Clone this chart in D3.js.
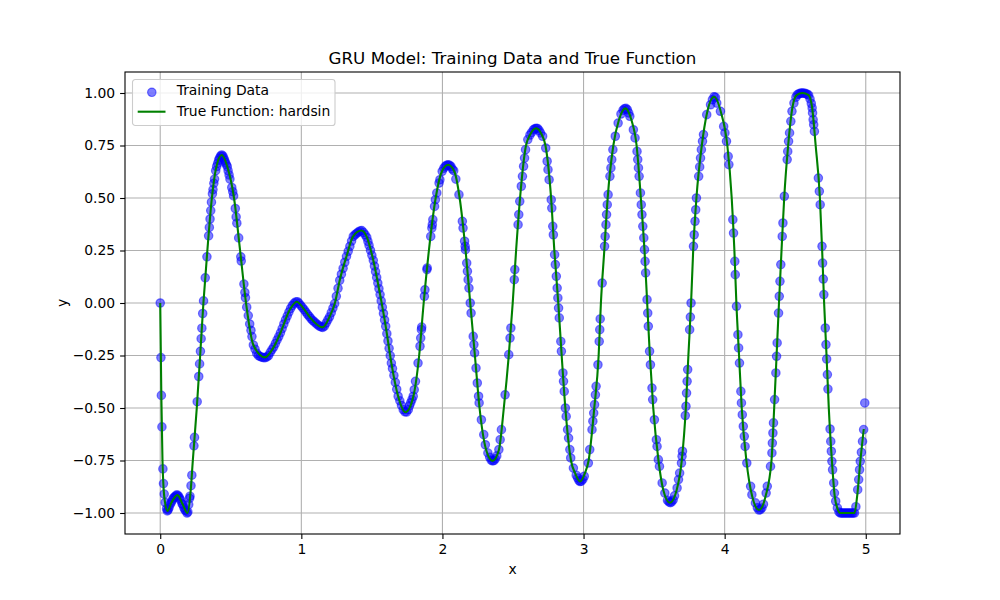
<!DOCTYPE html>
<meta charset="utf-8">
<body style="margin:0; background:white">

<!-- Load d3.js -->
<script src="https://d3js.org/d3.v7.min.js"></script>

<div id="my_dataviz"></div>

<script>

// True function (hardsin)
var curve = [
  [0,0],[0.008,-0.45],[0.016,-0.75],[0.03,-0.93],[0.052,-0.99],[0.08,-0.95],[0.122,-0.915],[0.16,-0.96],
  [0.193,-1.0],[0.215,-0.9],[0.231,-0.75],[0.259,-0.5],[0.283,-0.25],[0.306,0],[0.334,0.25],[0.366,0.5],
  [0.395,0.64],[0.436,0.705],[0.475,0.65],[0.523,0.5],[0.566,0.25],[0.608,0],[0.66,-0.2],[0.742,-0.259],
  [0.80,-0.215],[0.85,-0.145],[0.92,-0.03],[0.967,0.006],[1.02,-0.03],[1.06,-0.067],[1.15,-0.116],
  [1.202,-0.063],[1.238,0],[1.273,0.111],[1.32,0.222],[1.367,0.317],[1.426,0.345],[1.462,0.317],
  [1.509,0.206],[1.556,0.048],[1.598,-0.111],[1.638,-0.286],[1.686,-0.444],[1.738,-0.52],[1.792,-0.45],
  [1.835,-0.25],[1.867,0],[1.904,0.25],[1.952,0.5],[1.995,0.625],[2.04,0.658],[2.085,0.625],[2.122,0.5],
  [2.164,0.25],[2.197,0],[2.23,-0.25],[2.263,-0.5],[2.31,-0.70],[2.355,-0.752],[2.40,-0.70],[2.435,-0.5],
  [2.47,-0.25],[2.498,0],[2.522,0.25],[2.55,0.5],[2.592,0.75],[2.62,0.80],[2.664,0.832],[2.705,0.80],
  [2.73,0.75],[2.77,0.5],[2.793,0.25],[2.821,0],[2.845,-0.25],[2.871,-0.5],[2.911,-0.75],[2.94,-0.81],
  [2.975,-0.85],[3.01,-0.81],[3.036,-0.75],[3.076,-0.5],[3.107,-0.25],[3.123,0],[3.147,0.25],[3.171,0.5],
  [3.211,0.75],[3.25,0.87],[3.296,0.927],[3.34,0.87],[3.376,0.75],[3.406,0.5],[3.432,0.25],[3.451,0],
  [3.47,-0.25],[3.494,-0.5],[3.531,-0.75],[3.565,-0.89],[3.612,-0.951],[3.66,-0.89],[3.696,-0.75],
  [3.725,-0.5],[3.743,-0.25],[3.762,0],[3.777,0.25],[3.80,0.5],[3.838,0.75],[3.875,0.905],[3.925,0.982],
  [3.975,0.905],[4.019,0.75],[4.05,0.5],[4.069,0.25],[4.083,0],[4.102,-0.25],[4.121,-0.5],[4.154,-0.75],
  [4.195,-0.92],[4.243,-0.986],[4.29,-0.92],[4.332,-0.75],[4.351,-0.5],[4.368,-0.25],[4.385,0],[4.403,0.25],
  [4.422,0.5],[4.45,0.75],[4.48,0.93],[4.51,0.99],[4.55,1.0],[4.595,0.99],[4.62,0.93],[4.645,0.75],
  [4.675,0.5],[4.691,0.25],[4.705,0],[4.722,-0.25],[4.738,-0.5],[4.76,-0.75],[4.78,-0.92],[4.80,-0.98],
  [4.82,-1.0],[4.92,-1.0],[4.939,-0.92],[4.962,-0.75],[4.986,-0.6]
];

// Training samples
var train = [
  [0,0],[0.005,-0.26],[0.008,-0.44],[0.012,-0.59],[0.019,-0.79],[0.023,-0.86],[0.028,-0.91],[0.035,-0.95],
  [0.045,-0.98],[0.05,-0.99],
  [0.056,-0.985],[0.062,-0.975],[0.07,-0.96],[0.078,-0.95],[0.085,-0.94],[0.092,-0.93],[0.1,-0.925],
  [0.108,-0.92],[0.115,-0.915],[0.122,-0.915],[0.13,-0.92],[0.138,-0.93],[0.146,-0.94],[0.154,-0.955],
  [0.16,-0.96],[0.168,-0.975],[0.175,-0.985],[0.182,-0.99],[0.19,-1.0],[0.196,-0.995],[0.202,-0.96],
  [0.208,-0.93],
  [0.211,-0.92],[0.218,-0.87],[0.224,-0.82],[0.239,-0.68],[0.243,-0.64],[0.262,-0.47],[0.273,-0.35],
  [0.279,-0.29],[0.285,-0.23],[0.29,-0.17],[0.295,-0.12],[0.301,-0.05],[0.307,0.01],[0.319,0.12],
  [0.331,0.22],[0.343,0.32],[0.348,0.36],[0.353,0.4],[0.358,0.44],[0.363,0.48],[0.37,0.52],[0.374,0.54],
  [0.38,0.57],[0.385,0.59],[0.393,0.63],[0.4,0.65],[0.407,0.665],[0.414,0.68],[0.42,0.69],[0.428,0.7],
  [0.436,0.705],[0.444,0.7],
  [0.45,0.69],[0.456,0.68],[0.461,0.67],[0.468,0.66],[0.475,0.65],[0.481,0.63],[0.488,0.61],[0.494,0.59],
  [0.507,0.55],[0.514,0.53],[0.52,0.51],[0.532,0.45],[0.538,0.41],[0.543,0.38],[0.556,0.31],[0.571,0.22],
  [0.574,0.2],[0.593,0.09],[0.6,0.05],[0.604,0.025],[0.613,-0.02],[0.624,-0.06],[0.634,-0.1],[0.643,-0.13],
  [0.65,-0.16],[0.66,-0.2],[0.672,-0.22],[0.684,-0.24],[0.696,-0.25],[0.708,-0.255],[0.72,-0.258],
  [0.732,-0.26],[0.744,-0.26],[0.756,-0.257],[0.768,-0.25],
  [0.78,-0.235],[0.792,-0.222],[0.804,-0.21],[0.816,-0.193],[0.828,-0.176],[0.84,-0.16],[0.852,-0.142],
  [0.864,-0.122],[0.876,-0.1],[0.888,-0.08],[0.9,-0.062],[0.912,-0.043],[0.924,-0.026],[0.936,-0.012],
  [0.948,-0.002],[0.96,0.005],[0.972,0.006],[0.984,-0.002],[0.996,-0.012],[1.008,-0.022],[1.02,-0.032],
  [1.032,-0.043],[1.044,-0.054],[1.056,-0.064],[1.068,-0.074],[1.08,-0.083],[1.092,-0.09],[1.104,-0.097],
  [1.116,-0.104],[1.128,-0.11],[1.14,-0.114],[1.152,-0.116],[1.164,-0.11],[1.176,-0.095],[1.188,-0.08],
  [1.2,-0.066],[1.212,-0.046],[1.224,-0.024],[1.236,-0.003],[1.248,0.032],[1.26,0.07],[1.272,0.108],
  [1.284,0.137],[1.296,0.165],[1.308,0.194],[1.32,0.222],[1.332,0.246],[1.344,0.27],[1.356,0.295],
  [1.368,0.317],[1.38,0.325],[1.392,0.332],[1.404,0.338],[1.416,0.343],[1.428,0.345],[1.44,0.336],
  [1.452,0.325],[1.464,0.312],[1.472,0.293],[1.48,0.274],[1.49,0.251],[1.5,0.227],[1.51,0.203],
  [1.518,0.176],[1.526,0.149],[1.534,0.122],[1.542,0.095],[1.55,0.068],[1.558,0.04],[1.566,0.01],
  [1.574,-0.02],[1.582,-0.05],[1.59,-0.081],[1.598,-0.111],[1.606,-0.146],[1.614,-0.181],[1.622,-0.216],
  [1.63,-0.251],[1.638,-0.286],[1.646,-0.312],[1.656,-0.345],[1.666,-0.378],[1.676,-0.411],[1.686,-0.444],
  [1.698,-0.466],[1.71,-0.488],[1.722,-0.508],[1.734,-0.518],[1.746,-0.519],[1.758,-0.508],
  [1.766,-0.49],[1.775,-0.475],[1.784,-0.46],[1.793,-0.444],[1.8,-0.413],[1.809,-0.373],[1.827,-0.286],
  [1.841,-0.206],[1.846,-0.167],[1.851,-0.127],[1.853,-0.115],[1.872,0.032],[1.876,0.063],[1.89,0.159],
  [1.892,0.167],[1.917,0.317],[1.925,0.357],[1.928,0.373],[1.932,0.397],[1.944,0.46],[1.95,0.492],
  [1.96,0.524],[1.976,0.571],[1.982,0.587],[1.998,0.627],[2.01,0.642],[2.02,0.651],[2.03,0.656],
  [2.04,0.658],[2.05,0.656],[2.06,0.65],[2.07,0.638],
  [2.08,0.63],[2.095,0.59],[2.117,0.516],[2.141,0.389],[2.146,0.357],[2.157,0.294],[2.161,0.27],
  [2.163,0.254],[2.172,0.19],[2.177,0.151],[2.182,0.111],[2.188,0.071],[2.197,0],[2.203,-0.048],
  [2.218,-0.159],[2.223,-0.198],[2.228,-0.238],[2.238,-0.31],[2.247,-0.381],[2.256,-0.444],[2.26,-0.476],
  [2.276,-0.556],[2.293,-0.627],[2.304,-0.675],[2.322,-0.714],[2.335,-0.735],[2.345,-0.748],
  [2.355,-0.752],[2.365,-0.75],[2.375,-0.742],[2.385,-0.728],
  [2.4,-0.698],[2.409,-0.651],[2.418,-0.603],[2.444,-0.437],[2.47,-0.246],[2.479,-0.167],[2.485,-0.119],
  [2.509,0.111],[2.513,0.159],[2.536,0.373],[2.541,0.421],[2.548,0.484],[2.559,0.556],[2.567,0.603],
  [2.575,0.651],[2.582,0.69],[2.589,0.73],[2.605,0.778],[2.62,0.8],[2.632,0.812],[2.645,0.825],
  [2.655,0.83],[2.664,0.832],[2.674,0.831],[2.685,0.822],[2.695,0.81],
  [2.71,0.794],[2.732,0.738],[2.742,0.675],[2.748,0.635],[2.756,0.587],[2.771,0.492],[2.775,0.452],
  [2.782,0.365],[2.786,0.325],[2.795,0.23],[2.8,0.183],[2.807,0.127],[2.813,0.071],[2.818,0.024],
  [2.823,-0.024],[2.828,-0.071],[2.839,-0.183],[2.843,-0.23],[2.854,-0.333],[2.858,-0.373],[2.863,-0.421],
  [2.871,-0.5],[2.877,-0.54],[2.887,-0.603],[2.894,-0.643],[2.903,-0.698],[2.909,-0.738],[2.928,-0.786],
  [2.948,-0.82],[2.958,-0.833],[2.967,-0.845],[2.975,-0.85],[2.985,-0.848],[2.995,-0.84],[3.005,-0.825],
  [3.034,-0.762],[3.044,-0.698],[3.06,-0.603],[3.066,-0.563],[3.072,-0.524],[3.078,-0.484],[3.084,-0.437],
  [3.089,-0.397],[3.102,-0.294],[3.111,-0.183],[3.115,-0.127],[3.118,-0.076],[3.132,0.095],[3.149,0.27],
  [3.153,0.317],[3.159,0.373],[3.163,0.421],[3.168,0.468],[3.174,0.516],[3.187,0.603],[3.194,0.643],
  [3.2,0.683],[3.208,0.73],[3.225,0.794],[3.245,0.857],[3.265,0.9],[3.28,0.918],[3.29,0.925],[3.3,0.927],
  [3.31,0.921],[3.32,0.905],
  [3.328,0.889],[3.353,0.825],[3.365,0.786],[3.379,0.722],[3.384,0.683],[3.389,0.643],[3.394,0.603],
  [3.403,0.524],[3.409,0.468],[3.414,0.421],[3.42,0.365],[3.427,0.31],[3.432,0.254],[3.436,0.198],
  [3.44,0.143],[3.45,0.016],[3.455,-0.048],[3.459,-0.111],[3.468,-0.23],[3.474,-0.294],[3.485,-0.405],
  [3.49,-0.46],[3.502,-0.556],[3.516,-0.651],[3.521,-0.683],[3.53,-0.746],[3.538,-0.778],[3.557,-0.857],
  [3.576,-0.905],[3.595,-0.94],[3.605,-0.947],[3.615,-0.951],[3.625,-0.947],[3.635,-0.938],
  [3.645,-0.918],[3.663,-0.881],[3.673,-0.841],[3.681,-0.81],[3.694,-0.762],[3.698,-0.73],[3.701,-0.706],
  [3.721,-0.536],[3.726,-0.492],[3.73,-0.429],[3.734,-0.373],[3.738,-0.317],[3.752,-0.127],[3.757,-0.067],
  [3.762,0],[3.779,0.27],[3.784,0.325],[3.79,0.389],[3.795,0.444],[3.8,0.5],[3.816,0.603],[3.823,0.648],
  [3.829,0.69],[3.835,0.73],[3.843,0.77],[3.85,0.802],[3.873,0.897],[3.9,0.944],[3.913,0.968],
  [3.925,0.982],[3.935,0.979],
  [3.944,0.952],[3.97,0.913],[3.993,0.841],[4.002,0.81],[4.013,0.77],[4.025,0.698],[4.03,0.659],
  [4.058,0.397],[4.063,0.333],[4.072,0.198],[4.075,0.135],[4.084,-0.016],[4.094,-0.151],[4.099,-0.214],
  [4.105,-0.286],[4.115,-0.421],[4.119,-0.476],[4.125,-0.532],[4.132,-0.587],[4.139,-0.635],[4.145,-0.683],
  [4.157,-0.762],[4.184,-0.873],[4.193,-0.913],[4.218,-0.952],[4.232,-0.975],[4.243,-0.986],
  [4.253,-0.984],[4.264,-0.976],[4.275,-0.958],
  [4.294,-0.905],[4.302,-0.873],[4.325,-0.778],[4.335,-0.714],[4.338,-0.667],[4.342,-0.619],[4.346,-0.571],
  [4.354,-0.46],[4.363,-0.333],[4.368,-0.254],[4.372,-0.19],[4.382,-0.048],[4.387,0.032],[4.392,0.103],
  [4.398,0.183],[4.408,0.317],[4.413,0.381],[4.423,0.508],[4.443,0.683],[4.447,0.722],[4.453,0.77],
  [4.46,0.81],[4.469,0.865],[4.477,0.913],[4.491,0.952],[4.505,0.98],[4.515,0.992],[4.525,0.996],
  [4.535,0.998],[4.545,1.0],[4.555,1.0],[4.565,0.999],[4.575,0.997],[4.585,0.994],[4.595,0.99],
  [4.605,0.972],[4.614,0.95],
  [4.62,0.929],[4.623,0.905],[4.627,0.873],[4.631,0.849],[4.636,0.817],[4.664,0.595],[4.671,0.532],
  [4.677,0.468],[4.69,0.27],[4.694,0.19],[4.699,0.114],[4.703,0.04],[4.713,-0.119],[4.718,-0.198],
  [4.723,-0.267],[4.728,-0.341],[4.732,-0.41],[4.747,-0.6],[4.752,-0.659],[4.756,-0.706],[4.76,-0.754],
  [4.765,-0.794],[4.773,-0.857],[4.778,-0.905],[4.787,-0.944],[4.799,-0.976],[4.81,-0.995],[4.82,-1.0],
  [4.83,-1.0],[4.84,-1.0],[4.85,-1.0],[4.86,-1.0],[4.87,-1.0],[4.88,-1.0],[4.89,-1.0],[4.9,-1.0],
  [4.91,-1.0],[4.92,-1.0],[4.93,-0.97],[4.943,-0.889],[4.95,-0.841],[4.956,-0.794],[4.961,-0.754],
  [4.969,-0.711],[4.977,-0.659],[4.985,-0.603],[4.993,-0.476]
];

var xTicks = [0, 1, 2, 3, 4, 5];
var yTicks = [-1, -0.75, -0.5, -0.25, 0, 0.25, 0.5, 0.75, 1];

var titleText = "GRU Model: Training Data and True Function";
var legendLabels = ["Training Data", "True Function: hardsin"];

// Set the dimensions and margins of the graph (matplotlib default 10x6 figure)
var margin = {top: 72, right: 100, bottom: 66, left: 125},
    width = 1000 - margin.left - margin.right,
    height = 600 - margin.top - margin.bottom;

var font = "'DejaVu Sans', sans-serif";

var svg = d3.select("#my_dataviz")
  .append("svg")
    .attr("width", 1000)
    .attr("height", 600)
    .style("font-family", font);

var g = svg.append("g")
    .attr("transform", "translate(" + margin.left + "," + margin.top + ")");

// Scales with 5% padding like matplotlib autoscale
var all = train.concat(curve);
var xExt = d3.extent(all, function(d) { return d[0]; });
var yExt = d3.extent(all, function(d) { return d[1]; });
var xPad = (xExt[1] - xExt[0]) * 0.05,
    yPad = (yExt[1] - yExt[0]) * 0.05;

var x = d3.scaleLinear()
  .domain([xExt[0] - xPad, xExt[1] + xPad])
  .range([0, width]);
var y = d3.scaleLinear()
  .domain([yExt[0] - yPad, yExt[1] + yPad])
  .range([height, 0]);

// Grid
g.append("g").selectAll("line").data(xTicks).join("line")
  .attr("x1", function(d) { return x(d); }).attr("x2", function(d) { return x(d); })
  .attr("y1", 0).attr("y2", height)
  .attr("stroke", "#b0b0b0").attr("stroke-width", 1.1);
g.append("g").selectAll("line").data(yTicks).join("line")
  .attr("y1", function(d) { return y(d); }).attr("y2", function(d) { return y(d); })
  .attr("x1", 0).attr("x2", width)
  .attr("stroke", "#b0b0b0").attr("stroke-width", 1.1);

// Training points
g.append("g").selectAll("circle").data(train).join("circle")
  .attr("cx", function(d) { return x(d[0]); })
  .attr("cy", function(d) { return y(d[1]); })
  .attr("r", 4.2)
  .attr("fill", "blue").attr("fill-opacity", 0.5)
  .attr("stroke", "blue").attr("stroke-opacity", 0.5).attr("stroke-width", 1.2);

// True function line
g.append("path")
  .datum(curve)
  .attr("fill", "none")
  .attr("stroke", "green")
  .attr("stroke-width", 2.1)
  .attr("stroke-linejoin", "round")
  .attr("d", d3.line()
    .x(function(d) { return x(d[0]); })
    .y(function(d) { return y(d[1]); })
    .curve(d3.curveMonotoneX));

// Axes
var minus = function(s) { return s.replace("-", "\u2212"); };
var xAxis = g.append("g")
  .attr("transform", "translate(0," + height + ")")
  .call(d3.axisBottom(x).tickValues(xTicks).tickSize(4.9).tickPadding(4.9)
    .tickFormat(function(d) { return minus(d3.format("d")(d)); }));
var yAxis = g.append("g")
  .call(d3.axisLeft(y).tickValues(yTicks).tickSize(4.9).tickPadding(4.9)
    .tickFormat(function(d) { return minus(d3.format(".2f")(d)); }));

[xAxis, yAxis].forEach(function(a) {
  a.attr("font-family", font).attr("font-size", 13.9);
  a.select(".domain").remove();
  a.selectAll(".tick line").attr("stroke", "black").attr("stroke-width", 1.1);
  a.selectAll(".tick text").attr("fill", "black");
});

// Frame
g.append("rect")
  .attr("width", width).attr("height", height)
  .attr("fill", "none").attr("stroke", "black").attr("stroke-width", 1.1);

// Title and labels
svg.append("text")
  .attr("x", margin.left + width / 2).attr("y", 64)
  .attr("text-anchor", "middle").attr("font-size", 16.7)
  .text(titleText);
svg.append("text")
  .attr("x", margin.left + width / 2).attr("y", 574)
  .attr("text-anchor", "middle").attr("font-size", 13.9)
  .text("x");
svg.append("text")
  .attr("transform", "translate(67," + (margin.top + height / 2) + ") rotate(-90)")
  .attr("text-anchor", "middle").attr("font-size", 13.9)
  .text("y");

// Legend
var lg = svg.append("g").attr("transform", "translate(132.5,79.5)");
lg.append("rect")
  .attr("width", 202.5).attr("height", 46).attr("rx", 2.8)
  .attr("fill", "white").attr("fill-opacity", 0.8)
  .attr("stroke", "#cccccc").attr("stroke-width", 1.1);
lg.append("circle")
  .attr("cx", 19.3).attr("cy", 12.8).attr("r", 4.2)
  .attr("fill", "blue").attr("fill-opacity", 0.5)
  .attr("stroke", "blue").attr("stroke-opacity", 0.5).attr("stroke-width", 1.2);
lg.append("line")
  .attr("x1", 5.2).attr("x2", 33).attr("y1", 32.2).attr("y2", 32.2)
  .attr("stroke", "green").attr("stroke-width", 2.1);
lg.selectAll("text.lab").data(legendLabels).join("text")
  .attr("class", "lab")
  .attr("x", 44.2)
  .attr("y", function(d, i) { return 15.8 + i * 20.8; })
  .attr("font-size", 13.9)
  .text(function(d) { return d; });

</script>
</body>
